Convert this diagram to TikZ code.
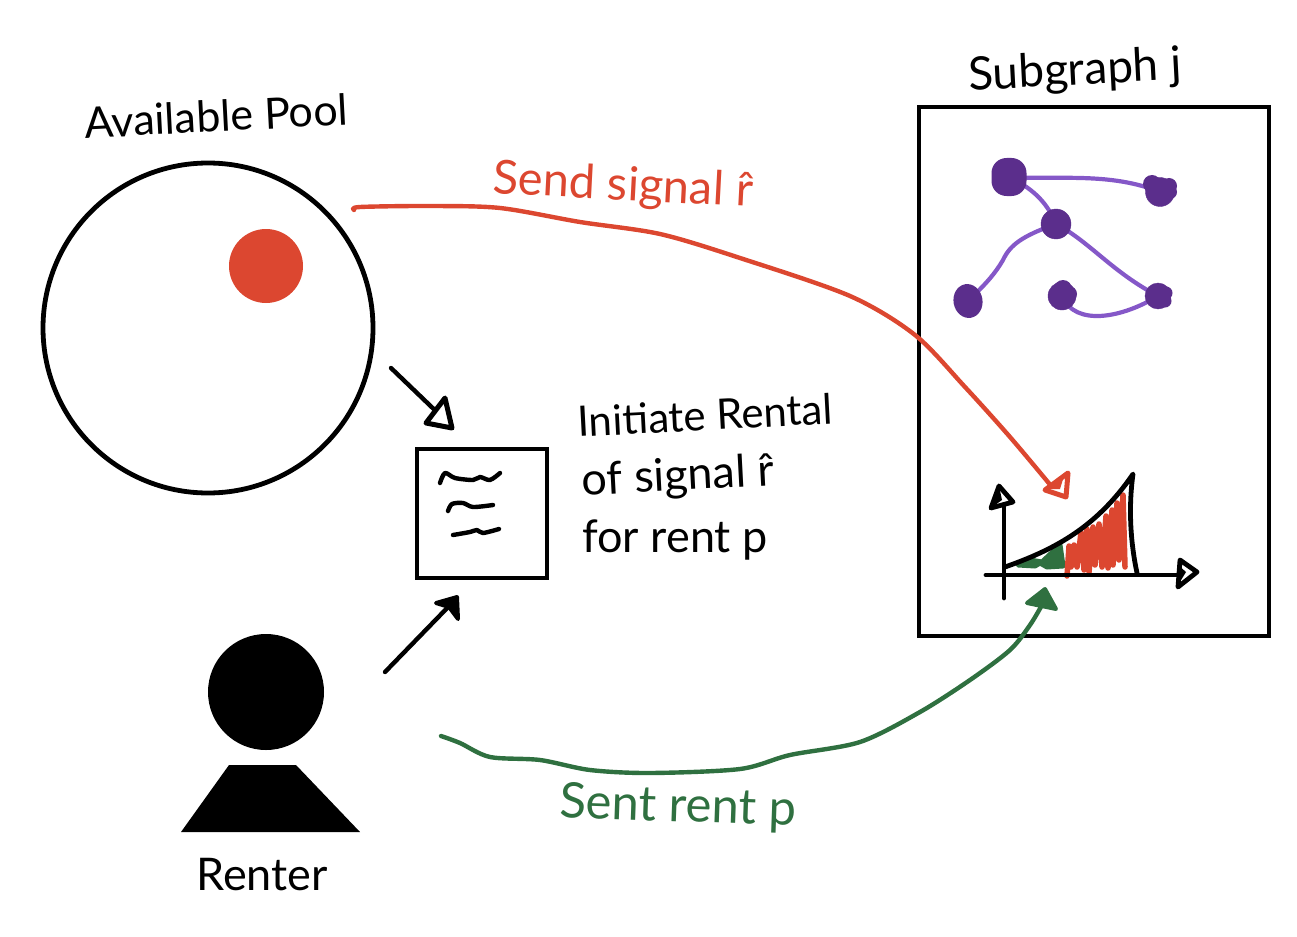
\documentclass[tikz,border=0pt]{standalone}
\usepackage{fontspec}
\setmainfont{Lato}
\usetikzlibrary{shapes.geometric}
\definecolor{hred}{HTML}{DC4730}
\definecolor{hgreen}{HTML}{2F7040}
\definecolor{hdark}{HTML}{5B2E8C}
\definecolor{hlight}{HTML}{8558C8}
\pgfdeclarelayer{edgelayer}
\pgfsetlayers{edgelayer,main}
\tikzset{
  ink/.style={draw=black,line width=4.8pt,line cap=round,line join=round},
  hand/.style={line width=4.4pt,line cap=round,line join=round},
  headopen/.style={draw=#1,fill=white,line width=5pt,line join=round},
  headfill/.style={draw=#1,fill=#1,line width=4pt,line join=round},
  vertexnode/.style={circle,fill=hdark,draw=hdark,inner sep=0pt,minimum size=#1},
  lump/.style={fill=hdark},
  edgeline/.style={draw=hlight,line width=4.2pt,line cap=round},
  lab/.style={font=\fontsize{#1}{#1}\selectfont,inner sep=0pt,anchor=center},
}
\begin{document}
\begin{tikzpicture}[x=1pt,y=-1pt]
\useasboundingbox (0,0) rectangle (1297,936);
% pool
\node[circle,draw=black,line width=4.8pt,minimum size=330pt,inner sep=0pt] (pool) at (208,328) {};
\node[circle,fill=hred,minimum size=74pt,inner sep=0pt] (dot) at (266,266) {};
\node[lab=43,rotate=3] (poollab) at (216,116) {Available Pool};
% contract
\node[draw=black,line width=4.8pt,minimum width=130pt,minimum height=129pt,inner sep=0pt] (contract) at (482,513.5) {};
\draw[ink,line width=4.4pt] plot[smooth] coordinates {(440,483) (445,473) (455,478) (473,480) (480,477) (490,480) (500,473)};
\draw[ink,line width=4.4pt] plot[smooth] coordinates {(448,511) (452,504) (463,503) (473,507) (493,505)};
\draw[ink,line width=4.4pt] plot[smooth] coordinates {(453,535) (470,532) (477,530) (483,533) (499,529)};
% black arrows
\coordinate (a1s) at (391,368);
\coordinate (a1e) at (442,417);
\coordinate (a2s) at (385,672);
\coordinate (a2e) at (452,603);
\draw[ink,line width=4.4pt] (a1s) -- (a1e);
\draw[headopen=black] (445,398) -- (426,423) -- (452,428) -- cycle;
\draw[ink,line width=4.4pt] (a2s) -- (a2e);
\draw[headfill=black] (436,603) -- (457,597) -- (458,619) -- (449,607) -- cycle;
% renter
\node[circle,fill=black,minimum size=116pt,inner sep=0pt] (renterhead) at (266,692) {};
\fill[black] (229,765) -- (296,765) -- (360,832) -- (181,832) -- cycle;
\node[lab=45] (renterlab) at (262,875) {Renter};
% frame
\node[draw=black,line width=4.8pt,minimum width=350pt,minimum height=529pt,inner sep=0pt] (frame) at (1094,371.5) {};
\node[lab=46,rotate=3] (framelab) at (1075,72) {Subgraph j};
% graph vertices
\node[rectangle,rounded corners=15pt,fill=hdark,inner sep=0pt,minimum width=35pt,minimum height=38pt] (A) at (1009,177) {};
\node[vertexnode=29pt] (B) at (1160,192) {};
\fill[lump] (1152,184) circle (9pt) (1169,186) circle (8pt) (1170,192) circle (7pt);
\node[vertexnode=30pt] (C) at (1056,224) {};
\node[ellipse,fill=hdark,inner sep=0pt,minimum width=29pt,minimum height=34pt,rotate=10] (D) at (968,301) {};
\node[vertexnode=28pt] (E) at (1062,296) {};
\fill[lump] (1063,289) circle (9pt) (1069,294) circle (8pt);
\node[vertexnode=26pt] (F) at (1158,296) {};
\fill[lump] (1166,293) circle (6.5pt) (1165,301) circle (6.5pt);
% graph edges, under the vertices
\begin{pgfonlayer}{edgelayer}
\draw[edgeline] (A.center) .. controls (1060,180) and (1110,172) .. (B.center);
\draw[edgeline] (A.center) .. controls (1036,190) and (1048,205) .. (C.center);
\draw[edgeline] (C.center) .. controls (1022,236) and (1010,245) .. (1003,260) .. controls (996,272) and (988,282) .. (D.center);
\draw[edgeline] (C.center) .. controls (1090,242) and (1112,272) .. (F.center);
\draw[edgeline] (E.center) .. controls (1075,327) and (1122,318) .. (F.center);
\end{pgfonlayer}
% plot
\coordinate (xs) at (986,575);
\coordinate (xe) at (1182,575);
\coordinate (ys) at (1004,598);
\coordinate (ye) at (1004,495);
\draw[hgreen,line width=5pt,line join=round,line cap=round,fill=hgreen] (1018,565) -- (1030,560) -- (1042,562) -- (1060,545) -- (1063,566) -- (1047,567) -- (1040,563) -- (1035,566) -- cycle;
\draw[hred,line width=5.5pt,line join=round,line cap=round] (1067,576) -- (1069,546) -- (1071,567) -- (1074,545) -- (1077,567) -- (1081,532) -- (1084,570) -- (1087,529) -- (1089,572) -- (1093,527) -- (1095,565) -- (1099,524) -- (1102,567) -- (1106,516) -- (1108,568) -- (1112,510) -- (1113,565) -- (1117,503) -- (1119,560) -- (1123,495) -- (1125,567);
\draw[ink] (xs) -- (xe);
\draw[ink] (ys) -- (ye);
\draw[ink,fill=white] (1180,560) -- (1197,572) -- (1178,587) -- cycle;
\fill[black] (1178,565) -- (1186,572) -- (1178,585) -- cycle;
\draw[ink,fill=white] (999,486) -- (991,508) -- (1013,502) -- cycle;
\fill[black] (999,486) -- (991,508) -- (1002,500) -- cycle;
\coordinate (curveend) at (1137,573);
\draw[ink] (1005,567) .. controls (1050,551) and (1095,530) .. (1133,474) .. controls (1128,510) and (1131,545) .. (curveend);
% red curve
\coordinate (rs) at (354,210);
\coordinate (re) at (1052,487);
\draw[hred,hand] plot[smooth] coordinates {(rs) (360,207) (430,206) (500,208) (580,222) (660,234) (740,258) (850,296) (915,335) (965,387) (1010,437) (re)};
\draw[headopen=hred] (1068,473) -- (1066,497) -- (1045,490) -- cycle;
\fill[hred] (1048,489) -- (1064,476) -- (1060,489) -- cycle;
% green curve
\coordinate (gs) at (441,736);
\coordinate (ge) at (1042,605);
\draw[hgreen,hand] plot[smooth] coordinates {(gs) (460,743) (490,757) (540,760) (590,770) (650,773) (740,769) (790,755) (860,742) (920,712) (970,680) (1010,650) (1030,625) (ge)};
\draw[headfill=hgreen] (1045,589) -- (1027,603) -- (1056,609) -- cycle;
% labels
\node[lab=47,text=hred,rotate=-3] (sendlab) at (623,187) {Send signal \^r};
\node[lab=42,rotate=3] (initlab) at (705,415) {Initiate Rental};
\node[lab=45,rotate=3] (siglab) at (678,478) {of signal \^r};
\node[lab=45] (forlab) at (675,540) {for rent p};
\node[lab=49,text=hgreen,rotate=-2] (sentlab) at (678,808) {Sent rent p};
\end{tikzpicture}
\end{document}
